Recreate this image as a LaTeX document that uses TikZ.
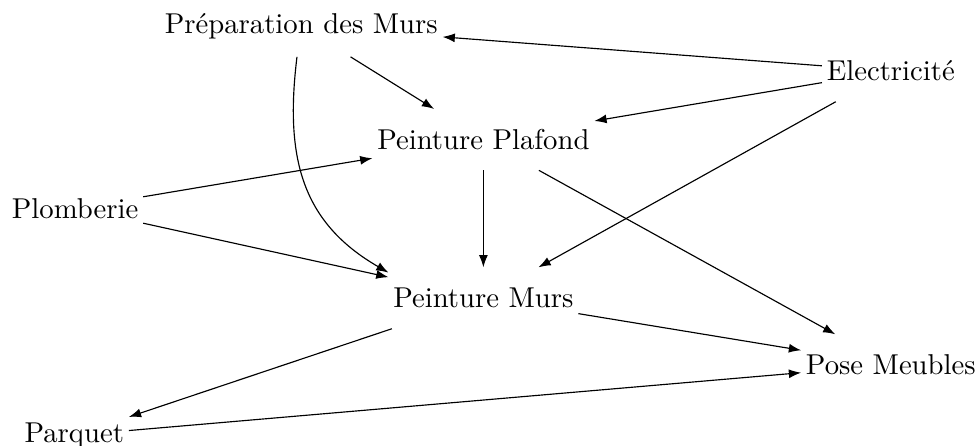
\documentclass[tikz,border=0pt]{standalone}
\usepackage{tikz}
\usetikzlibrary{arrows.meta,positioning,calc}

\begin{document}
\begin{tikzpicture}[
  task/.style={rectangle, inner xsep=1.5pt, inner ysep=0pt, minimum height=21pt, font=\normalsize},
  arr/.style={-{Latex[length=1.5mm,width=1.1mm]}}
]
\useasboundingbox (0,0) rectangle (11.99,-5.45);
\node[task] (prep)  at (3.69,-0.32)  {Préparation des Murs};
\node[task] (elec)  at (10.91,-0.87) {Electricité};
\node[task] (plaf)  at (5.92,-1.71)  {Peinture Plafond};
\node[task] (plomb) at (0.92,-2.55)  {Plomberie};
\node[task] (murs)  at (5.92,-3.65)  {Peinture Murs};
\node[task] (pose)  at (10.91,-4.47) {Pose Meubles};
\node[task] (parq)  at (0.91,-5.33)  {Parquet};
\draw[arr] (elec) -- (prep);
\foreach \s in {prep,elec,plomb}{\draw[arr] (\s) -- (plaf);}
\foreach \s in {elec,plomb,plaf}{\draw[arr] (\s) -- (murs);}
\draw[arr] (prep.-98) to[out=-97, in=150, looseness=1.1] (murs.165);
\foreach \s in {plaf,murs,parq}{\draw[arr] (\s) -- (pose);}
\draw[arr] (murs) -- (parq);
\end{tikzpicture}
\end{document}
